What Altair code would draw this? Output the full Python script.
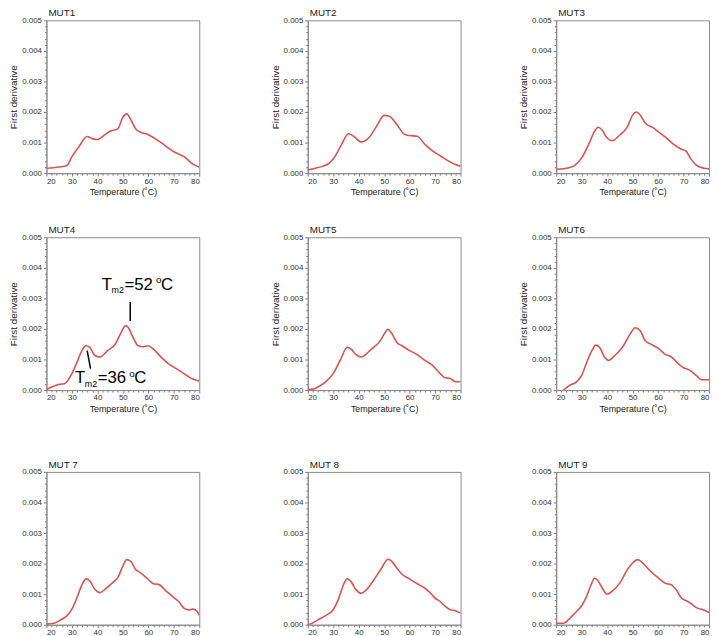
import altair as alt
import pandas as pd

# ---- data ----
MUT1_T = [20, 25, 28, 30, 33, 36, 38, 40, 43, 45, 48, 50, 51.5, 53, 55, 57, 60, 65, 70, 74, 78, 80]
MUT1_D = [0.00016, 0.0002, 0.00025, 0.00054, 0.0009, 0.0012, 0.00113, 0.0011, 0.00126, 0.00137, 0.00145,
          0.00183, 0.00194, 0.00177, 0.00145, 0.00134, 0.00126, 0.001, 0.0007, 0.00054, 0.00027, 0.0002]

MUT2_T = [20, 23, 26, 28, 30, 33, 36, 38, 41, 44, 47, 50, 52, 55, 58, 60, 63, 66, 69, 72, 75, 78, 80]
MUT2_D = [0.0001, 0.00016, 0.00023, 0.0003, 0.00046, 0.00089, 0.00129, 0.00121, 0.00102, 0.00116, 0.00153,
          0.00189, 0.00186, 0.00159, 0.00127, 0.00123, 0.00121, 0.00094, 0.00073, 0.00057, 0.00041, 0.00028, 0.00023]

MUT3_T = [20, 25, 27, 30, 33, 35, 36.5, 38, 40, 42, 45, 48, 50, 51.5, 53, 55, 58, 60, 63, 66, 69, 71, 73, 75, 78, 80]
MUT3_D = [0.00013, 0.00018, 0.00024, 0.0005, 0.00099, 0.00136, 0.0015, 0.00141, 0.00115, 0.00106, 0.00125,
          0.00152, 0.0019, 0.002, 0.0019, 0.00163, 0.00149, 0.00136, 0.00117, 0.00095, 0.00079, 0.00072,
          0.00045, 0.00026, 0.00016, 0.00014]

MUT4_T = [20, 23, 25, 27, 30, 32, 34, 35.5, 37, 39, 41, 44, 47, 49, 51, 52, 54, 56, 58, 60, 62, 65, 68, 71, 74, 77, 80]
MUT4_D = [0.00002, 0.00013, 0.00019, 0.00021, 0.00054, 0.00091, 0.00131, 0.00145, 0.0014, 0.00113, 0.00108,
          0.00129, 0.0015, 0.00183, 0.0021, 0.00206, 0.00172, 0.00145, 0.00142, 0.00145, 0.00134, 0.00108,
          0.00086, 0.0007, 0.00054, 0.00038, 0.0003]

MUT5_T = [20, 22, 24, 27, 30, 33, 35.5, 37, 39, 41, 43, 45, 48, 50, 51.5, 53, 55, 57, 60, 63, 66, 69, 72, 74, 76, 78, 80]
MUT5_D = [0.00002, 0.00003, 0.0001, 0.00027, 0.00054, 0.00102, 0.0014, 0.00134, 0.00116, 0.00108, 0.00118,
          0.00134, 0.00156, 0.00183, 0.00199, 0.00185, 0.00156, 0.00145, 0.00129, 0.00116, 0.00097, 0.00081,
          0.00054, 0.0004, 0.00038, 0.00027, 0.00027]

MUT6_T = [22.8, 25, 28, 30, 32, 34, 35.5, 37, 39, 40.5, 43, 46, 49, 51, 53, 55, 57, 60, 63, 65, 68, 70, 72, 75, 77, 80]
MUT6_D = [0.0, 0.00014, 0.00027, 0.00048, 0.00091, 0.00129, 0.00147, 0.0014, 0.00108, 0.00097, 0.00113,
          0.0014, 0.00183, 0.00204, 0.00194, 0.00161, 0.00151, 0.00137, 0.00116, 0.0011, 0.00086, 0.00073,
          0.00067, 0.00048, 0.00034, 0.00034]

MUT7_T = [20, 23, 26, 28, 30, 32, 34, 35.5, 37, 39, 41, 43, 46, 48, 50, 51.5, 53, 55, 57, 60, 62, 64, 67, 70,
          72, 74, 76, 77.5, 79, 80]
MUT7_D = [0.00002, 0.00005, 0.00018, 0.00029, 0.00051, 0.00089, 0.00132, 0.0015, 0.00143, 0.00116, 0.00105,
          0.00116, 0.00138, 0.00154, 0.00192, 0.00213, 0.00208, 0.00181, 0.0017, 0.00148, 0.00134, 0.00132,
          0.0011, 0.00089, 0.00075, 0.00054, 0.00048, 0.00051, 0.00045, 0.00031]

MUT8_T = [20, 21, 24, 27, 30, 32, 34, 35.5, 37, 39, 41, 43, 46, 49, 51.5, 53, 55, 57, 60, 63, 66, 68, 70, 72,
          74, 76, 78, 80]
MUT8_D = [0.0, 0.00002, 0.00016, 0.0003, 0.00049, 0.00082, 0.0013, 0.0015, 0.00141, 0.00114, 0.00103, 0.00114,
          0.00147, 0.00185, 0.00214, 0.00207, 0.00185, 0.00165, 0.0015, 0.00134, 0.0012, 0.00105, 0.00087,
          0.00076, 0.0006, 0.00049, 0.00046, 0.00038]

MUT9_T = [20, 23, 25, 27, 30, 32, 34, 35, 36, 38, 40, 42, 45, 48, 50, 52, 54, 57, 60, 63, 65, 67, 69, 72, 75, 78, 80]
MUT9_D = [0.00005, 0.00005, 0.00018, 0.00035, 0.00062, 0.00094, 0.00137, 0.00152, 0.00148, 0.00121, 0.001,
          0.0011, 0.00137, 0.00181, 0.00202, 0.00213, 0.00202, 0.00175, 0.00154, 0.00135, 0.00132, 0.00116,
          0.00089, 0.00075, 0.00056, 0.00048, 0.0004]

TITLES = ["MUT1", "MUT2", "MUT3", "MUT4", "MUT5", "MUT6", "MUT 7", "MUT 8", "MUT 9"]

# annotation (MUT4)
ANN_LABEL = ["=52", "=36"]
ANN_X = [41.7, 31.2]
ANN_Y = [0.00329, 0.000216]
LEAD_X = [52.9, 36.0]
LEAD_X2 = [52.9, 37.3]
LEAD_Y = [0.00288, 0.00129]
LEAD_Y2 = [0.00226, 0.0007]

X_TICKS = list(range(20, 81, 2))
Y_TICKS = [round(i * 0.0002, 4) for i in range(26)]

LINE = "#d9534f"
FONT = "Liberation Sans"
W = H = 155

XSC = alt.Scale(domain=[20, 80], nice=False, zero=False)
YSC = alt.Scale(domain=[0, 0.005], nice=False)
Y_MAJOR = "abs(datum.value*1000 - round(datum.value*1000)) < 0.001"


def make_axes(x_title, y_title):
    xax = dict(values=X_TICKS,
               labelExpr="datum.value % 10 === 0 ? datum.label : ''",
               tickSize={"condition": {"test": "datum.value % 10 === 0", "value": 3}, "value": 2},
               grid=False, labelFontSize=8, labelPadding=1, titlePadding=3, titleFontSize=9)
    xax["title"] = "Temperature (˚C)" if x_title else None
    yax = dict(values=Y_TICKS,
               labelExpr=Y_MAJOR + " ? format(datum.value, '.3f') : ''",
               tickSize={"condition": {"test": Y_MAJOR, "value": 3}, "value": 2},
               grid=False, labelFontSize=8, labelPadding=2, titlePadding=3, titleFontSize=10,
               title="First derivative")
    if not y_title:
        yax["titleOpacity"] = 0
    return alt.Axis(**xax), alt.Axis(**yax)


def panel(title, temps, vals, x_title=True, y_title=True, annotate=False):
    xa, ya = make_axes(x_title, y_title)

    def X(f):
        return alt.X(f, scale=XSC, axis=xa)

    def Y(f):
        return alt.Y(f, scale=YSC, axis=ya)

    df = pd.DataFrame({"T": temps, "D": vals})
    layers = [alt.Chart(df).mark_line(interpolate="monotone", color=LINE, strokeWidth=1.6, clip=True).encode(
        x=X("T:Q"), y=Y("D:Q"))]
    if annotate:
        lead = pd.DataFrame({"T": LEAD_X, "T2": LEAD_X2, "D": LEAD_Y, "D2": LEAD_Y2})
        lab = pd.DataFrame({"T": ANN_X, "D": ANN_Y, "lab": ANN_LABEL})
        layers.append(alt.Chart(lead).mark_rule(color="black", strokeWidth=1.5).encode(
            x=X("T:Q"), x2="T2:Q", y=Y("D:Q"), y2="D2:Q"))
        kw = dict(font=FONT, color="black", align="left", baseline="alphabetic")
        lb = alt.Chart(lab)
        layers += [
            lb.mark_text(text="T", fontSize=17, dx=0, **kw).encode(x=X("T:Q"), y=Y("D:Q")),
            lb.mark_text(text="m2", fontSize=9, dx=10, dy=4, **kw).encode(x=X("T:Q"), y=Y("D:Q")),
            lb.mark_text(fontSize=17, dx=23, **kw).encode(text="lab:N", x=X("T:Q"), y=Y("D:Q")),
            lb.mark_text(text="o", fontSize=10, dx=55, dy=-7, **kw).encode(x=X("T:Q"), y=Y("D:Q")),
            lb.mark_text(text="C", fontSize=17, dx=60, **kw).encode(x=X("T:Q"), y=Y("D:Q")),
        ]
    return alt.layer(*layers).properties(width=W, height=H, title=title)


p1 = panel(TITLES[0], MUT1_T, MUT1_D)
p2 = panel(TITLES[1], MUT2_T, MUT2_D)
p3 = panel(TITLES[2], MUT3_T, MUT3_D)
p4 = panel(TITLES[3], MUT4_T, MUT4_D, annotate=True)
p5 = panel(TITLES[4], MUT5_T, MUT5_D)
p6 = panel(TITLES[5], MUT6_T, MUT6_D)
p7 = panel(TITLES[6], MUT7_T, MUT7_D, x_title=False, y_title=False)
p8 = panel(TITLES[7], MUT8_T, MUT8_D, x_title=False, y_title=False)
p9 = panel(TITLES[8], MUT9_T, MUT9_D, x_title=False, y_title=False)


def row(a, b, c):
    # flush bounds: spacing is measured between plot areas
    return alt.hconcat(a, alt.hconcat(b, c, spacing=97, bounds="flush"), spacing=110, bounds="flush")


chart = alt.vconcat(
    row(p1, p2, p3),
    alt.vconcat(row(p4, p5, p6), row(p7, p8, p9), spacing=45),
    spacing=27,
).properties(
    padding={"top": -5, "left": 0, "right": 0, "bottom": 0}
).configure_view(
    stroke="#8a8a8a", strokeWidth=1
).configure_axis(
    domainColor="#8a8a8a", tickColor="#7a7a7a", labelColor="#333333", titleColor="#222222",
    labelFont=FONT, titleFont=FONT, titleFontWeight="normal"
).configure_title(
    font=FONT, fontSize=10, fontWeight="normal", anchor="start", offset=-2, dx=2,
    frame="group", color="#222222"
)

chart.save("out.html", embed_options={"renderer": "svg", "actions": False})
